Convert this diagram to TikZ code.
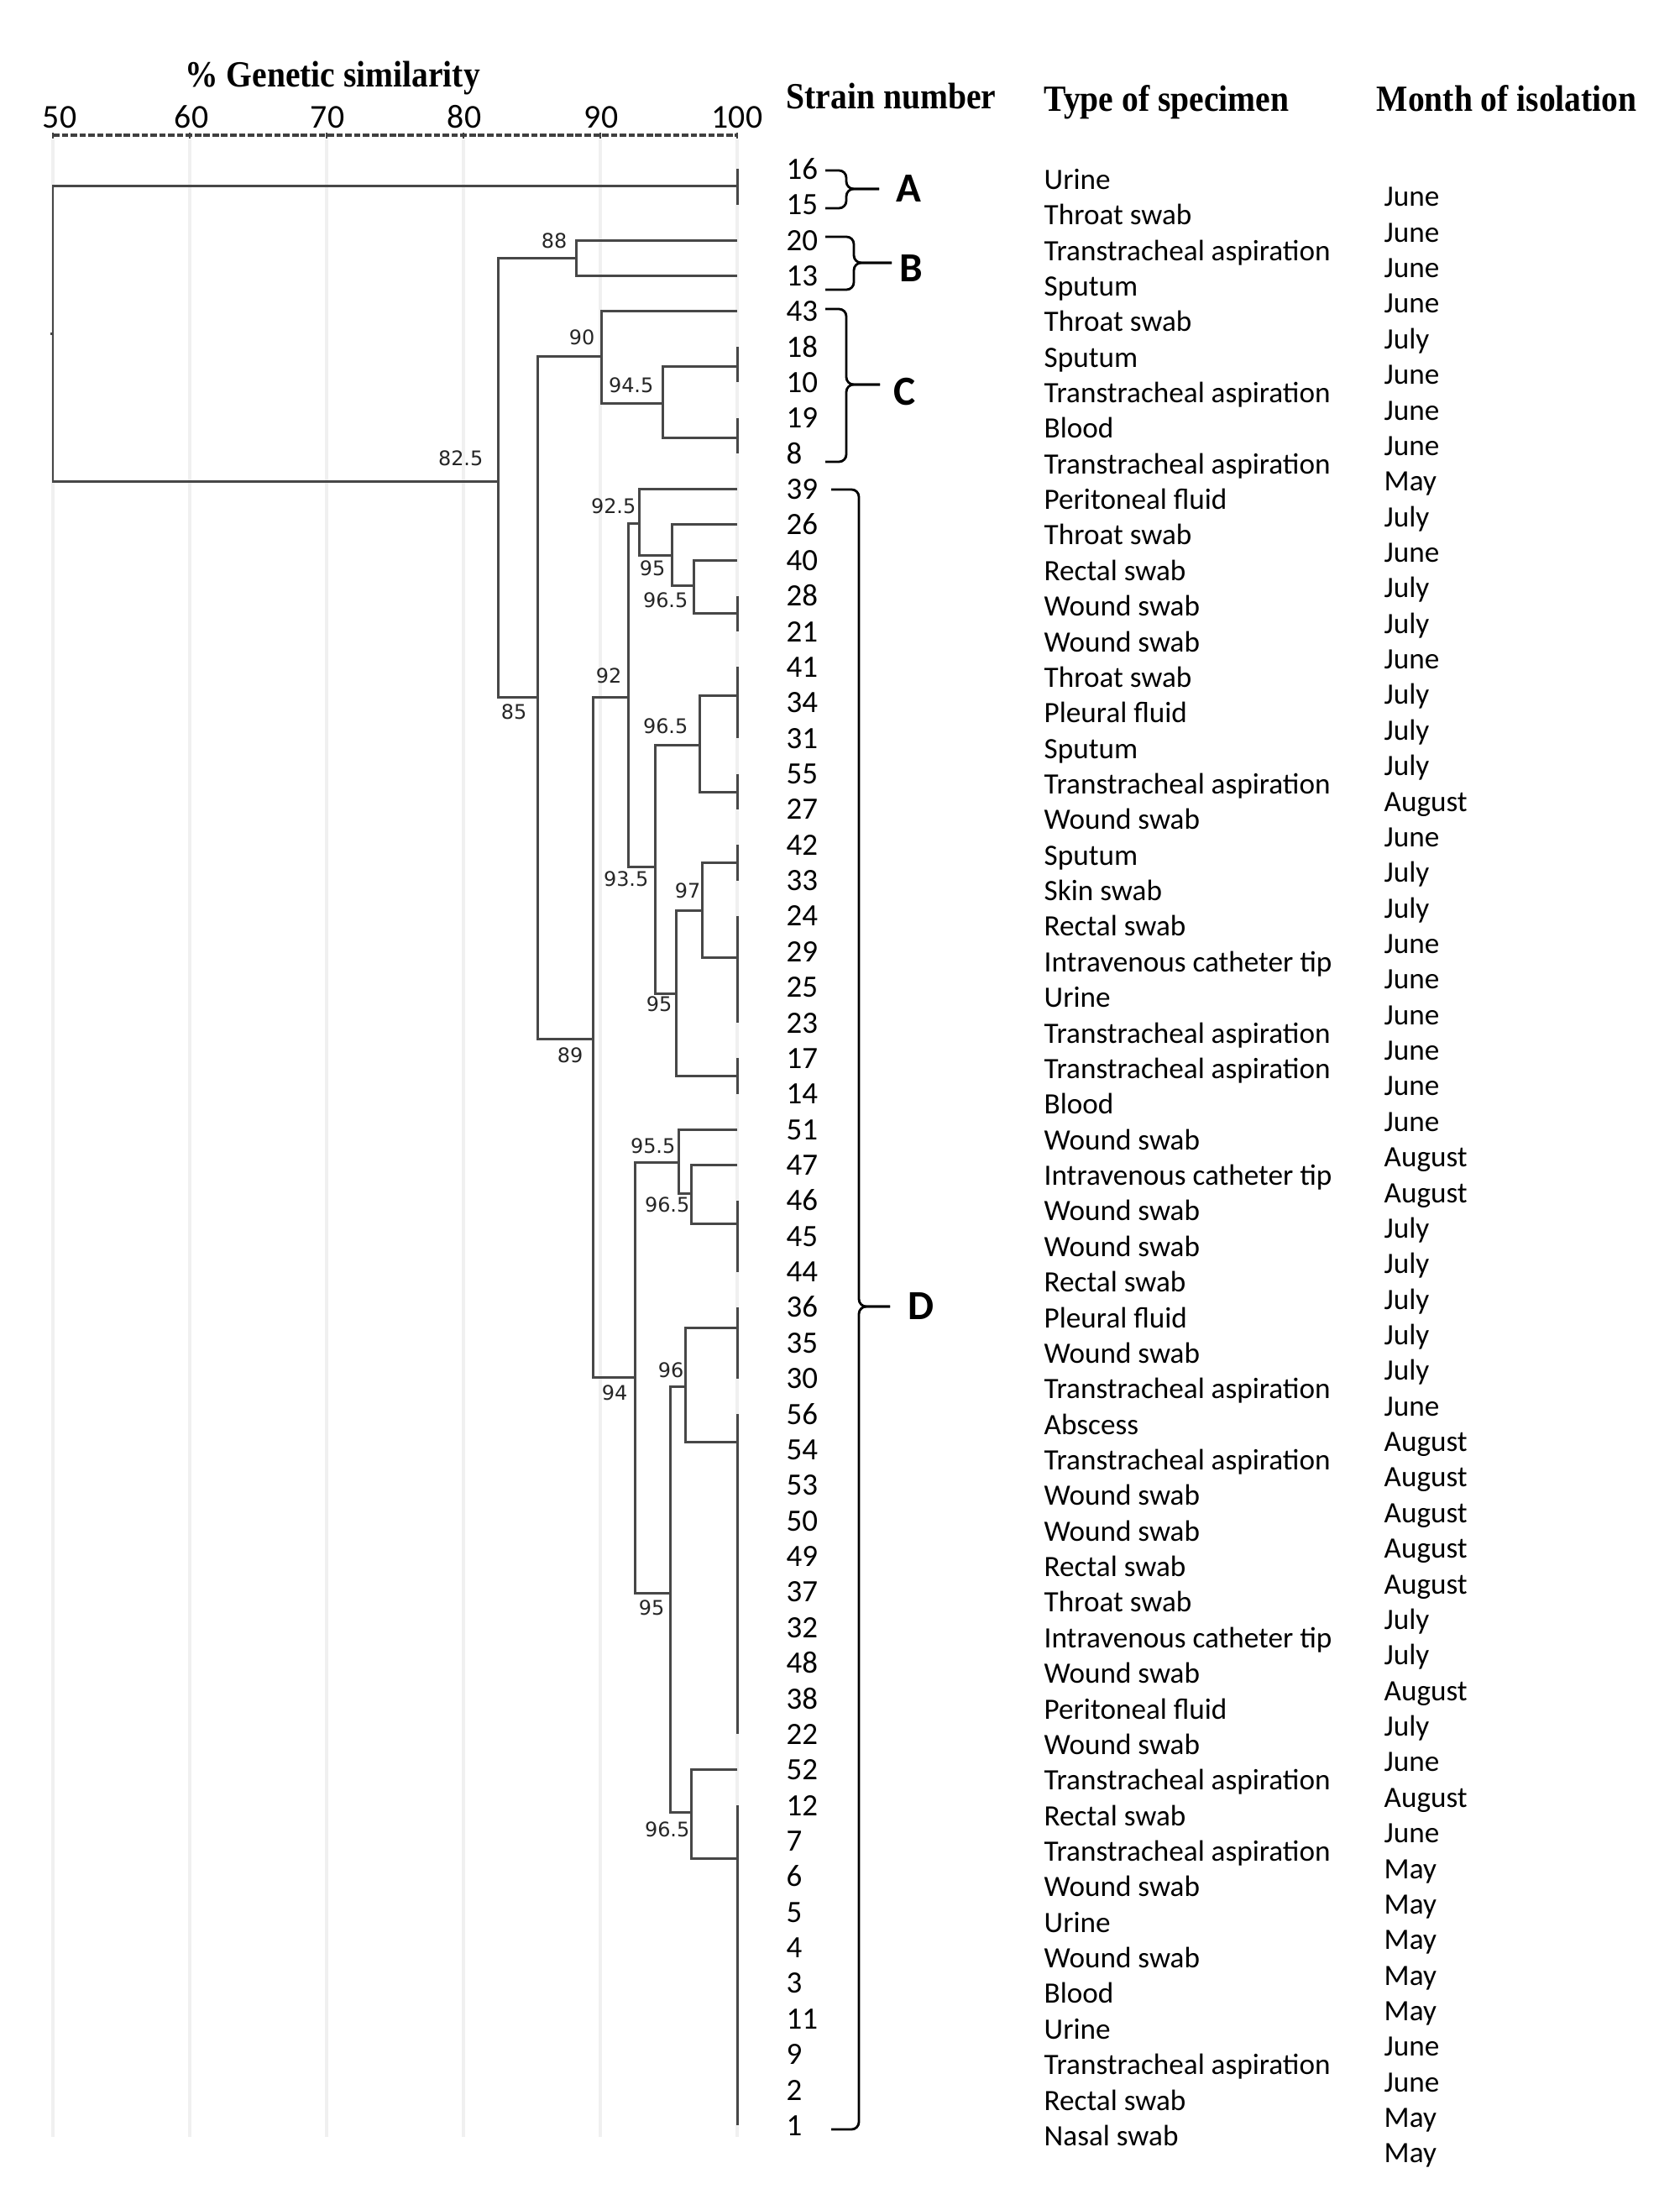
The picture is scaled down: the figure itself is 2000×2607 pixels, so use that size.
\documentclass[tikz,border=0pt]{standalone}
\usepackage{fontspec}
\setmainfont{Carlito}
\newfontfamily\hdrfont[FakeStretch=0.9]{Liberation Serif}
\newfontfamily\labfont{DejaVu Sans}
\begin{document}
\begin{tikzpicture}[x=0.01cm,y=-0.01cm,
  dl/.style={draw=black!72, line width=0.85pt},
  gridline/.style={draw=black!6, line width=1.1pt},
  axisline/.style={draw=black!75, line width=1pt, dash pattern=on 2.2pt off 0.8pt},
  nl/.style={font=\labfont\fontsize{6.8}{8}\selectfont, inner sep=0pt, text=black!85},
  axl/.style={font=\fontsize{11.3}{13}\selectfont, anchor=base, inner sep=0pt},
  strain/.style={font=\fontsize{10.5}{12}\selectfont, anchor=base west, inner sep=0pt},
  spec/.style={font=\fontsize{10}{12}\selectfont, anchor=base west, inner sep=0pt},
  month/.style={font=\fontsize{10}{12}\selectfont, anchor=base west, inner sep=0pt},
  hdr/.style={font=\hdrfont\bfseries\fontsize{12.5}{14}\selectfont, anchor=base west, inner sep=0pt},
  clab/.style={font=\bfseries\fontsize{14}{16}\selectfont, inner sep=0pt},
  bracepath/.style={draw=black, line width=0.8pt, rounded corners=2.5pt}
]
\fill[white] (0,0) rectangle (2000,2607);
\useasboundingbox (0,0) rectangle (2000,2607);

% grid lines
\foreach \gx in {63,226,389,552,715,878} \draw[gridline] (\gx,166) -- (\gx,2545);

% axis
\coordinate (ax0) at (63,161);
\coordinate (ax1) at (878,161);
\draw[axisline] (ax0) -- (ax1);
\foreach \gx in {63,226,389,552,715,878} \draw[draw=black!75, line width=0.8pt] (\gx,158) -- (\gx,165);
\foreach \v/\gx in {50/71,60/228,70/390,80/553,90/716,100/878}
  \node[axl] (t\v) at (\gx,153) {\v};

% headers
\node[hdr, anchor=base] (h0) at (396,104) {\% Genetic similarity};
\node[hdr] (h1) at (936,130) {Strain number};
\node[hdr] (h2) at (1243,133) {Type of specimen};
\node[hdr] (h3) at (1639,133) {Month of isolation};

\begin{scope}[yshift=-2.012cm, y=-0.4234cm]
% dendrogram junctions
\coordinate (n0) at (63,4.64);
\coordinate (gA) at (878,0.48);
\coordinate (n825) at (593.5,8.78);
\coordinate (n88) at (686.6,2.5);
\coordinate (l20) at (878,2);
\coordinate (l13) at (878,3);
\coordinate (n85) at (640,14.86);
\coordinate (n90) at (716.5,5.26);
\coordinate (l43) at (878,4);
\coordinate (n945) at (789.7,6.58);
\coordinate (gC1) at (878,5.56);
\coordinate (gC2) at (878,7.56);
\coordinate (n89) at (706.6,24.46);
\coordinate (n92) at (748,14.86);
\coordinate (n925) at (761,9.97);
\coordinate (l39) at (878,9);
\coordinate (n95a) at (800,10.87);
\coordinate (l26) at (878,10);
\coordinate (n965a) at (826,11.72);
\coordinate (l40) at (878,11);
\coordinate (g2821) at (878,12.5);
\coordinate (n935) at (780,19.63);
\coordinate (n965b) at (833,16.19);
\coordinate (g413431) at (878,14.8);
\coordinate (g5527) at (878,17.51);
\coordinate (n95b) at (805,23.19);
\coordinate (n97) at (836,20.84);
\coordinate (g4233) at (878,19.5);
\coordinate (g2423) at (878,22.16);
\coordinate (g1714) at (878,25.49);
\coordinate (n94) at (756.5,33.98);
\coordinate (n955) at (808,27.93);
\coordinate (l51) at (878,27);
\coordinate (n965c) at (823,28.8);
\coordinate (l47) at (878,28);
\coordinate (g4644) at (878,29.66);
\coordinate (n95c) at (798,40.03);
\coordinate (n96) at (816,34.24);
\coordinate (g3630) at (878,32.58);
\coordinate (g5622) at (878,35.79);
\coordinate (n965d) at (823,46.19);
\coordinate (l52) at (878,45);
\coordinate (g121) at (878,47.5);

\draw[dl] (gA) -| (n0) |- (n825);
\draw[dl] (n0) -- ++(-3,0);
\draw[dl] (n88) -| (n825) |- (n85);
\draw[dl] (l20) -| (n88) |- (l13);
\draw[dl] (n90) -| (n85) |- (n89);
\draw[dl] (l43) -| (n90) |- (n945);
\draw[dl] (gC1) -| (n945) |- (gC2);
\draw[dl] (n92) -| (n89) |- (n94);
\draw[dl] (n925) -| (n92) |- (n935);
\draw[dl] (l39) -| (n925) |- (n95a);
\draw[dl] (l26) -| (n95a) |- (n965a);
\draw[dl] (l40) -| (n965a) |- (g2821);
\draw[dl] (n965b) -| (n935) |- (n95b);
\draw[dl] (g413431) -| (n965b) |- (g5527);
\draw[dl] (n97) -| (n95b) |- (g1714);
\draw[dl] (g4233) -| (n97) |- (g2423);
\draw[dl] (n955) -| (n94) |- (n95c);
\draw[dl] (l51) -| (n955) |- (n965c);
\draw[dl] (l47) -| (n965c) |- (g4644);
\draw[dl] (n96) -| (n95c) |- (n965d);
\draw[dl] (g3630) -| (n96) |- (g5622);
\draw[dl] (l52) -| (n965d) |- (g121);

% groups at 100 %
\foreach \a/\b in {0/1,5/6,7/8,12/13,14/16,17/18,19/20,21/24,25/26,29/31,32/34,35/44,46/55}
  \draw[dl] (878,\a) -- (878,\b);

% strain numbers
\foreach \s [count=\i from 0] in {16,15,20,13,43,18,10,19,8,39,26,40,28,21,41,34,31,55,27,42,33,24,29,25,23,17,14,51,47,46,45,44,36,35,30,56,54,53,50,49,37,32,48,38,22,52,12,7,6,5,4,3,11,9,2,1}
  \node[strain] (s\s) at (936,{\i+0.283}) {\s};

% specimens
\foreach \t [count=\i from 0] in {Urine,Throat swab,Transtracheal aspiration,Sputum,Throat swab,Sputum,Transtracheal aspiration,Blood,Transtracheal aspiration,Peritoneal fluid,Throat swab,Rectal swab,Wound swab,Wound swab,Throat swab,Pleural fluid,Sputum,Transtracheal aspiration,Wound swab,Sputum,Skin swab,Rectal swab,Intravenous catheter tip,Urine,Transtracheal aspiration,Transtracheal aspiration,Blood,Wound swab,Intravenous catheter tip,Wound swab,Wound swab,Rectal swab,Pleural fluid,Wound swab,Transtracheal aspiration,Abscess,Transtracheal aspiration,Wound swab,Wound swab,Rectal swab,Throat swab,Intravenous catheter tip,Wound swab,Peritoneal fluid,Wound swab,Transtracheal aspiration,Rectal swab,Transtracheal aspiration,Wound swab,Urine,Wound swab,Blood,Urine,Transtracheal aspiration,Rectal swab,Nasal swab}
  \node[spec] (sp\i) at (1243,{\i+0.567}) {\t};

% months
\foreach \m [count=\i from 0] in {June,June,June,June,July,June,June,June,May,July,June,July,July,June,July,July,July,August,June,July,July,June,June,June,June,June,June,August,August,July,July,July,July,July,June,August,August,August,August,August,July,July,August,July,June,August,June,May,May,May,May,May,June,June,May,May}
  \node[month] (m\i) at (1648,{\i+1.051}) {\m};
\end{scope}

% node labels (similarity values)
\node[nl, anchor=south east] (L825) at (576,556) {82.5};
\node[nl, anchor=south east] (L88) at (676,297) {88};
\node[nl, anchor=south east] (L90) at (709,412) {90};
\node[nl, anchor=south east] (L945) at (779,469) {94.5};
\node[nl, anchor=south east] (L925) at (758,613) {92.5};
\node[nl, anchor=south east] (L92) at (741,815) {92};
\node[nl, anchor=south east] (L965b) at (820,875) {96.5};
\node[nl, anchor=south east] (L97) at (835,1071) {97};
\node[nl, anchor=south east] (L955) at (805,1375) {95.5};
\node[nl, anchor=south east] (L96) at (815,1642) {96};
\node[nl, anchor=north east] (L85) at (628,838) {85};
\node[nl, anchor=north east] (L95a) at (793,667) {95};
\node[nl, anchor=north east] (L965a) at (820,705) {96.5};
\node[nl, anchor=north east] (L935) at (773,1037) {93.5};
\node[nl, anchor=north east] (L95b) at (801,1186) {95};
\node[nl, anchor=north east] (L89) at (695,1247) {89};
\node[nl, anchor=north east] (L965c) at (822,1425) {96.5};
\node[nl, anchor=north east] (L94) at (748,1649) {94};
\node[nl, anchor=north east] (L95c) at (792,1905) {95};
\node[nl, anchor=north east] (L965d) at (822,2169) {96.5};

% cluster braces
\draw[bracepath] (983,203) -- (1008,203) -- (1008,225) -- (1047,225);
\draw[bracepath] (983,248) -- (1008,248) -- (1008,225) -- (1047,225);
\node[clab] (cA) at (1082,225) {A};
\draw[bracepath] (983,282) -- (1017,282) -- (1017,313) -- (1062,313);
\draw[bracepath] (983,345) -- (1017,345) -- (1017,313) -- (1062,313);
\node[clab] (cB) at (1085,320) {B};
\draw[bracepath] (983,368) -- (1008,368) -- (1008,458) -- (1048,458);
\draw[bracepath] (983,550) -- (1008,550) -- (1008,458) -- (1048,458);
\node[clab] (cC) at (1078,467) {C};
\draw[bracepath] (990,583) -- (1023,583) -- (1023,1556) -- (1060,1556);
\draw[bracepath] (990,2536) -- (1023,2536) -- (1023,1556) -- (1060,1556);
\node[clab] (cD) at (1097,1556) {D};
\end{tikzpicture}
\end{document}
